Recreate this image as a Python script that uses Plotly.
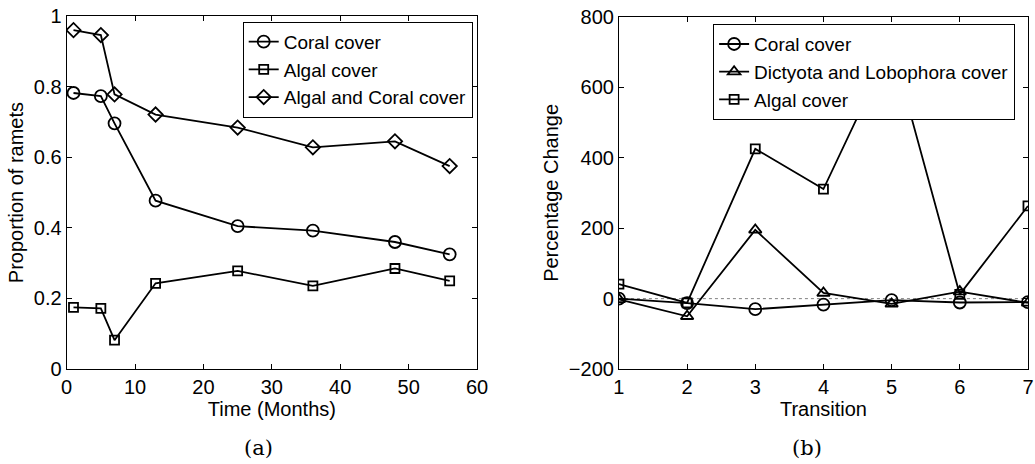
import plotly.graph_objects as go

# Panel (a): proportion of ramets over time
months = [1, 5, 7, 13, 25, 36, 48, 56]
coral_prop = [0.782, 0.773, 0.696, 0.477, 0.405, 0.392, 0.360, 0.325]
algal_prop = [0.175, 0.172, 0.082, 0.243, 0.278, 0.236, 0.285, 0.250]
algal_coral_prop = [0.960, 0.946, 0.778, 0.721, 0.684, 0.628, 0.645, 0.575]

# Panel (b): percentage change per transition
transitions = [1, 2, 3, 4, 5, 6, 7]
coral_change = [0, -13, -30, -17, -4, -11, -10]
dictyota_change = [-2, -50, 195, 16, -15, 20, -12]
algal_change = [41, -12, 425, 311, 720, 12, 263]

FONT = "Liberation Sans"
SERIF = "DejaVu Serif"
FS = 20
LW = 1.8

fig = go.Figure()


def add_series(x, y, name, symbol, size, xa, ya, legend):
    fig.add_trace(go.Scatter(
        x=x, y=y, name=name, mode="lines+markers",
        xaxis=xa, yaxis=ya, legend=legend,
        line=dict(color="black", width=LW),
        marker=dict(symbol=symbol, size=size, color="black",
                    line=dict(color="black", width=LW)),
    ))


add_series(months, coral_prop, "Coral cover", "circle-open", 12, "x", "y", "legend")
add_series(months, algal_prop, "Algal cover", "square-open", 9, "x", "y", "legend")
add_series(months, algal_coral_prop, "Algal and Coral cover", "diamond-open", 11, "x", "y", "legend")

add_series(transitions, coral_change, "Coral cover", "circle-open", 12, "x2", "y2", "legend2")
add_series(transitions, dictyota_change, "Dictyota and Lobophora cover", "triangle-up-open", 11, "x2", "y2", "legend2")
add_series(transitions, algal_change, "Algal cover", "square-open", 9, "x2", "y2", "legend2")

axis_common = dict(
    showline=True, linecolor="black", linewidth=1, mirror="allticks",
    ticks="inside", ticklen=5, tickcolor="black", tickwidth=1,
    showgrid=False, zeroline=False, automargin=False,
    tickfont=dict(family=FONT, size=FS, color="black"),
)

legend_common = dict(
    xanchor="left", yanchor="top",
    bgcolor="white", bordercolor="black", borderwidth=1,
    font=dict(family=FONT, size=19, color="black"),
    tracegroupgap=0, itemwidth=30,
)

fig.update_layout(
    width=1035, height=464,
    margin=dict(l=0, r=0, t=0, b=0, autoexpand=False),
    paper_bgcolor="white", plot_bgcolor="white",
    font=dict(family=FONT, size=FS, color="black"),
    xaxis=dict(domain=[0.0644, 0.4609], range=[0, 60], dtick=10,
               title=dict(text="Time (Months)", standoff=0,
                          font=dict(family=FONT, size=FS)),
               anchor="y", **axis_common),
    yaxis=dict(domain=[0.2045, 0.9655], range=[0, 1], dtick=0.2,
               title=dict(text="Proportion of ramets", standoff=4,
                          font=dict(family=FONT, size=FS)),
               anchor="x", **axis_common),
    xaxis2=dict(domain=[0.598, 0.9932], range=[1, 7], dtick=1,
                title=dict(text="Transition", standoff=0,
                           font=dict(family=FONT, size=FS)),
                anchor="y2", **axis_common),
    yaxis2=dict(domain=[0.2045, 0.964], range=[-200, 800], dtick=200,
                title=dict(text="Percentage Change", standoff=4,
                           font=dict(family=FONT, size=FS)),
                anchor="x2", **axis_common),
    legend=dict(x=0.2345, y=0.953, **legend_common),
    legend2=dict(x=0.689, y=0.948, **legend_common),
    showlegend=True,
)

# dotted reference line at zero change
fig.add_shape(type="line", xref="x2", yref="y2", x0=1, x1=7, y0=0, y1=0,
              line=dict(color="gray", width=1, dash="dot"), layer="below")

# subfigure captions
for label, xpx in [("(a)", 258), ("(b)", 807)]:
    fig.add_annotation(text=label, x=xpx / 1035, y=(464 - 448) / 464,
                       xref="paper", yref="paper", showarrow=False,
                       xanchor="center", yanchor="middle",
                       font=dict(family=SERIF, size=21, color="black"))

fig.write_html("out.html")
